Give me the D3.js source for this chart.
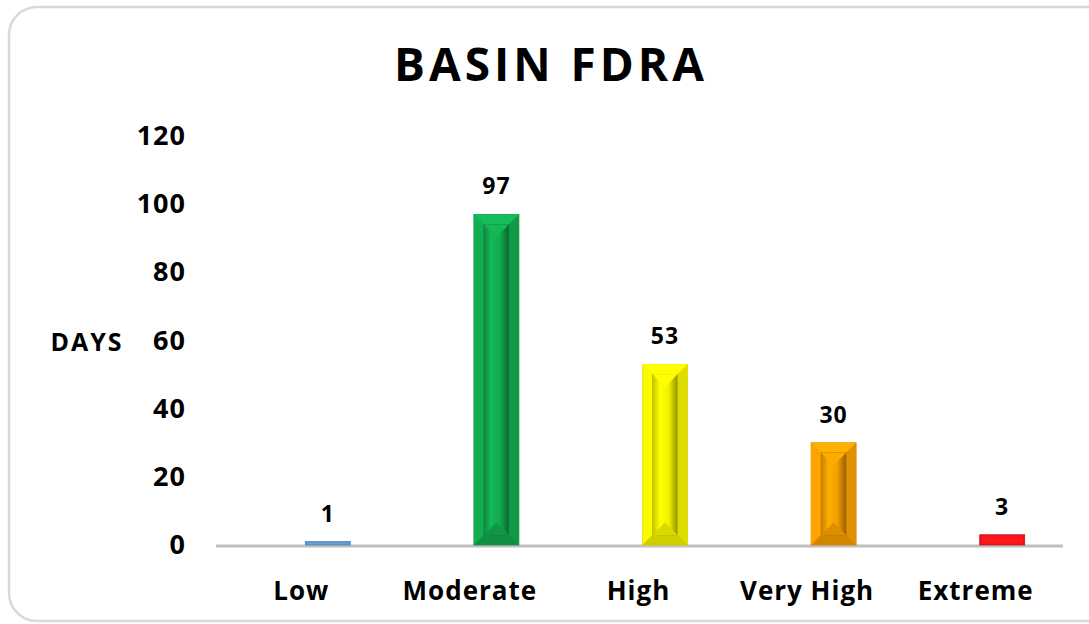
<!DOCTYPE html>
<html>
<head>
<meta charset="utf-8">
<script src="https://cdn.jsdelivr.net/npm/d3@7"></script>
<style>
  body { margin: 0; background: #fff; }
  text { font-family: "Open Sans", sans-serif; font-weight: 700; fill: #000; }
</style>
</head>
<body>
<svg class="chart"></svg>
<script>
const width = 1089;
const height = 624;

// data
const categories = ['Low', 'Moderate', 'High', 'Very High', 'Extreme'];
const days = [1, 97, 53, 30, 3];
const barColors = ['#5f98cf', '#12a84e', '#f2f200', '#f59d00', '#e8141b'];
const yTicks = [0, 20, 40, 60, 80, 100, 120];

const chart = d3.select('.chart')
    .attr('width', width)
    .attr('height', height);

// rounded frame
chart.append('rect')
    .attr('x', 9)
    .attr('y', 7)
    .attr('width', 1110)
    .attr('height', 614)
    .attr('rx', 28)
    .attr('fill', '#fff')
    .attr('stroke', '#d9d9d9')
    .attr('stroke-width', 2.5);

const xScale = d3.scaleBand()
    .domain(categories)
    .range([217, 1060]);

const yScale = d3.scaleLinear()
    .domain([0, 120])
    .range([545, 136]);

const barWidth = 45;
const barOffset = 4; // bars sit right of the category centre
const bev = 10;

const barX = c => xScale(c) + xScale.bandwidth() / 2 + barOffset;

// gradient for inner face of each bar
const defs = chart.append('defs');
barColors.forEach((col, i) => {
    const c = d3.color(col);
    const g = defs.append('linearGradient')
        .attr('id', 'face' + i)
        .attr('x1', 0).attr('x2', 1).attr('y1', 0).attr('y2', 0);
    g.append('stop').attr('offset', '0%').attr('stop-color', c.darker(0.6));
    g.append('stop').attr('offset', '30%').attr('stop-color', c.brighter(0.3));
    g.append('stop').attr('offset', '65%').attr('stop-color', c);
    g.append('stop').attr('offset', '100%').attr('stop-color', c.darker(1.4));
});

// axis line
chart.append('line')
    .attr('x1', 216)
    .attr('x2', 1063)
    .attr('y1', yScale(0) + 1)
    .attr('y2', yScale(0) + 1)
    .attr('stroke', '#bfbfbf')
    .attr('stroke-width', 3);

const bars = chart.selectAll('g.bar')
    .data(categories.map((c, i) => ({ cat: c, v: days[i], i })))
    .enter()
    .append('g')
    .attr('class', 'bar');

bars.each(function (d) {
    const g = d3.select(this);
    const x0 = barX(d.cat);
    const x1 = x0 + barWidth;
    const y0 = yScale(d.v);
    const y1 = yScale(0);
    const h = y1 - y0;
    const col = d3.color(barColors[d.i]);
    const b = Math.min(bev, h / 2);

    g.append('rect')
        .attr('x', x0).attr('y', y0)
        .attr('width', barWidth).attr('height', h)
        .attr('fill', col)
        .attr('stroke', col.darker(0.3))
        .attr('stroke-width', 0.8);

    if (h < 14) {
        // too short for bevels, just a bit of shading
        g.append('rect')
            .attr('x', x0 + 2).attr('y', y0 + 1.5)
            .attr('width', barWidth - 4).attr('height', Math.max(h - 3, 0.5))
            .attr('fill', col.brighter(0.3));
        return;
    }

    // bevel sides
    const poly = (pts, fill) => g.append('polygon')
        .attr('points', pts.map(p => p.join(',')).join(' '))
        .attr('fill', fill);
    poly([[x0, y0], [x1, y0], [x1 - b, y0 + b], [x0 + b, y0 + b]], col.brighter(0.35));
    poly([[x0, y0], [x0 + b, y0 + b], [x0 + b, y1 - b], [x0, y1]], col.brighter(0.1));
    poly([[x1, y0], [x1, y1], [x1 - b, y1 - b], [x1 - b, y0 + b]], col.darker(0.25));
    poly([[x0, y1], [x0 + b, y1 - b], [x1 - b, y1 - b], [x1, y1]], col.darker(0.45));

    // inner face
    g.append('rect')
        .attr('x', x0 + b).attr('y', y0 + b)
        .attr('width', barWidth - 2 * b).attr('height', h - 2 * b)
        .attr('fill', `url(#face${d.i})`)
        .attr('stroke', col.darker(0.8))
        .attr('stroke-width', 0.6);
    // small top / bottom facets of the face
    const fw = barWidth - 2 * b;
    poly([[x0 + b, y0 + b], [x1 - b, y0 + b], [x0 + b + fw / 2, y0 + b + fw / 2]], col.brighter(0.25));
    poly([[x0 + b, y1 - b], [x1 - b, y1 - b], [x0 + b + fw / 2, y1 - b - fw / 2]], col.darker(0.3));
});

// value labels
chart.selectAll('text.value')
    .data(days)
    .enter()
    .append('text')
    .attr('class', 'value')
    .attr('x', (d, i) => barX(categories[i]) + barWidth / 2)
    .attr('y', d => yScale(d) - 20)
    .attr('text-anchor', 'middle')
    .style('font-size', '23px')
    .style('letter-spacing', '1px')
    .text(d => d);

// y tick labels
chart.selectAll('text.ytick')
    .data(yTicks)
    .enter()
    .append('text')
    .attr('class', 'ytick')
    .attr('x', 186)
    .attr('y', d => yScale(d) + 9)
    .attr('text-anchor', 'end')
    .style('font-size', '27px')
    .style('letter-spacing', '1px')
    .text(d => d);

// category labels
chart.selectAll('text.cat')
    .data(categories)
    .enter()
    .append('text')
    .attr('class', 'cat')
    .attr('x', d => xScale(d) + xScale.bandwidth() / 2)
    .attr('y', 600)
    .attr('text-anchor', 'middle')
    .style('font-size', '26px')
    .style('letter-spacing', '1px')
    .text(d => d);

// axis title
chart.append('text')
    .attr('x', 87)
    .attr('y', 351)
    .attr('text-anchor', 'middle')
    .style('font-size', '25px')
    .style('letter-spacing', '2px')
    .text('DAYS');

// chart title
chart.append('text')
    .attr('x', 551)
    .attr('y', 81)
    .attr('text-anchor', 'middle')
    .style('font-size', '46px')
    .style('letter-spacing', '4px')
    .text('BASIN FDRA');
</script>
</body>
</html>
